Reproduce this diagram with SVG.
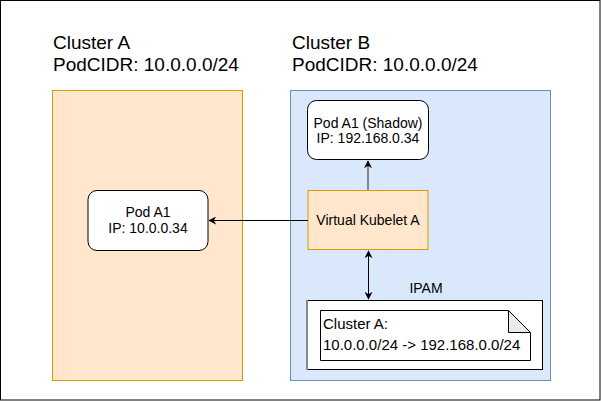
<svg xmlns="http://www.w3.org/2000/svg" width="601" height="402" viewBox="0 0 601 402">
<style>
text{font-family:"Liberation Sans",Arial,Helvetica,sans-serif;fill:#000}
.h{font-size:19px}
.t{font-size:14px;text-anchor:middle}
.n{font-size:15px}
.orange{fill:#ffe6cc;stroke:#d79b00;stroke-width:1}
.blue{fill:#dae8fc;stroke:#6c8ebf;stroke-width:1}
.pod{fill:#fff;stroke:#000;stroke-width:1}
.edge{fill:none;stroke:#000;stroke-width:1}
</style>
<defs>
<marker id="ah" viewBox="0 0 10 10" refX="9" refY="5" markerWidth="8" markerHeight="8" markerUnits="userSpaceOnUse" orient="auto-start-reverse">
<path d="M0,0 L10,5 L0,10 L3,5 Z" fill="#000"/>
</marker>
</defs>
<rect x="0.5" y="0.5" width="599.5" height="399.5" fill="#fff" stroke="#000"/>
<g id="clusterA">
<rect class="orange" x="52.5" y="90.5" width="190" height="290"/>
<text class="h" x="53" y="49">Cluster A</text>
<text class="h" x="53" y="71">PodCIDR: 10.0.0.0/24</text>
</g>
<g id="clusterB">
<rect class="blue" x="290.5" y="90.5" width="260" height="290"/>
<text class="h" x="292" y="49">Cluster B</text>
<text class="h" x="292" y="71">PodCIDR: 10.0.0.0/24</text>
</g>
<g id="podA1">
<rect class="pod" x="88" y="190.5" width="120" height="60" rx="9"/>
<text class="t" x="148" y="217">Pod A1</text>
<text class="t" x="148" y="233">IP: 10.0.0.34</text>
</g>
<g id="podShadow">
<rect class="pod" x="307.5" y="100.5" width="121" height="59" rx="9"/>
<text class="t" x="368" y="128">Pod A1 (Shadow)</text>
<text class="t" x="368" y="143">IP: 192.168.0.34</text>
</g>
<g id="kubelet">
<rect class="orange" x="308" y="190.5" width="120" height="59"/>
<text class="t" x="368" y="225">Virtual Kubelet A</text>
</g>
<g id="ipam">
<rect x="307.5" y="300.5" width="235" height="69" fill="#fff" stroke="#000"/>
<line x1="307" y1="300" x2="307" y2="370" stroke="#888" stroke-width="2"/>
<text class="t" x="426" y="293">IPAM</text>
<path d="M320.5,310.5 H508.5 L530.5,332.5 V360.5 H320.5 Z" fill="#fff" stroke="#000"/>
<path d="M508.5,310.5 V332.5 H530.5 Z" fill="#ebebeb" stroke="#000"/>
<text class="n" x="323" y="329">Cluster A:</text>
<text class="n" x="323" y="350">10.0.0.0/24 -&gt; 192.168.0.0/24</text>
</g>
<g id="connectors">
<path class="edge" d="M308,220.5 H209" marker-end="url(#ah)"/>
<path d="M368,190 V161" fill="none" stroke="#666" stroke-width="1.5" marker-end="url(#ah)"/>
<path class="edge" d="M368.5,251 V299" marker-start="url(#ah)" marker-end="url(#ah)"/>
</g>
</svg>
